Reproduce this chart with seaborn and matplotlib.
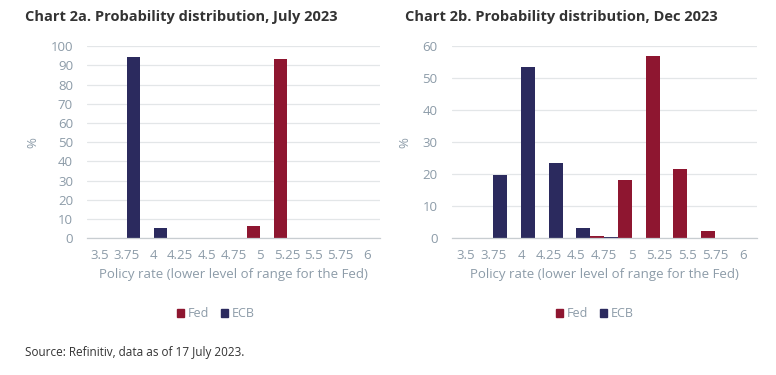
import matplotlib
matplotlib.use("Agg")
import matplotlib.pyplot as plt
import seaborn as sns
import pandas as pd
from matplotlib.patches import Patch

categories = ["3.5", "3.75", "4", "4.25", "4.5", "4.75", "5", "5.25", "5.5", "5.75", "6"]
fed_jul = [0, 0, 0, 0, 0, 0, 6.4, 93.4, 0, 0, 0]
ecb_jul = [0, 94.2, 5.4, 0, 0, 0, 0, 0, 0, 0, 0]
fed_dec = [0, 0, 0, 0, 0, 0.8, 18.3, 56.8, 21.6, 2.2, 0]
ecb_dec = [0, 19.6, 53.5, 23.6, 3.2, 0.4, 0, 0, 0, 0, 0]

titles = ["Chart 2a. Probability distribution, July 2023",
          "Chart 2b. Probability distribution, Dec 2023"]
xlabel = "Policy rate (lower level of range for the Fed)"
ylabel = "%"
series_names = ["Fed", "ECB"]
source = "Source: Refinitiv, data as of 17 July 2023."

FED_C = "#8E1630"
ECB_C = "#2B2A5E"
TICK_C = "#8C9BA8"
GRID_C = "#E3E6E8"
TITLE_C = "#333333"

sns.set_theme(style="white")
plt.rcParams["font.family"] = ["Open Sans", "DejaVu Sans"]

fig = plt.figure(figsize=(7.76, 3.75), dpi=100)
ax1 = fig.add_axes([0.112, 0.365, 0.378, 0.512])
ax2 = fig.add_axes([0.582, 0.365, 0.393, 0.512])

panels = [
    (ax1, fed_jul, ecb_jul, 100, 10),
    (ax2, fed_dec, ecb_dec, 60, 10),
]

for i, (ax, fed, ecb, ymax, step) in enumerate(panels):
    df = pd.DataFrame({
        "rate": categories * 2,
        "value": fed + ecb,
        "series": [series_names[0]] * len(categories) + [series_names[1]] * len(categories),
    })
    sns.barplot(data=df, x="rate", y="value", hue="series", order=categories,
                hue_order=series_names, palette=[FED_C, ECB_C], width=1.0,
                dodge=True, ax=ax, legend=False, saturation=1,
                edgecolor="none", linewidth=0)
    ax.set_ylim(0, ymax)
    ax.set_xlim(-0.5, len(categories) - 0.5)
    ax.set_yticks(range(0, ymax + 1, step))
    ax.yaxis.grid(True, color=GRID_C, linewidth=0.9)
    ax.set_axisbelow(True)
    for s in ["top", "right", "left"]:
        ax.spines[s].set_visible(False)
    ax.spines["bottom"].set_color("#C8CDD1")
    ax.spines["bottom"].set_linewidth(0.9)
    ax.tick_params(axis="y", length=0, labelsize=9.5, labelcolor=TICK_C, pad=10)
    ax.tick_params(axis="x", which="major", length=0, labelsize=9.5, labelcolor=TICK_C, pad=8)
    ax.set_xticks(range(len(categories)))
    ax.set_xticklabels(categories)
    ax.set_xticks([k - 0.5 for k in range(len(categories) + 1)], minor=True)
    ax.tick_params(axis="x", which="minor", length=5, color="#C8CDD1", width=0.9, direction="out")
    ax.set_xlabel(xlabel, fontsize=9.5, color=TICK_C, labelpad=4)
    ax.set_ylabel(ylabel, fontsize=9.5, color=TICK_C, labelpad=8)

    handles = [Patch(color=FED_C, label=series_names[0]), Patch(color=ECB_C, label=series_names[1])]
    ax.legend(handles=handles, loc="upper center", bbox_to_anchor=(0.44 if i == 0 else 0.47, -0.30),
              ncol=2, frameon=False, fontsize=9, labelcolor=TICK_C,
              handlelength=0.6, handleheight=0.6, handletextpad=0.3, columnspacing=0.9)

fig.text(0.032, 0.955, titles[0], fontsize=10.5, fontweight="bold", color=TITLE_C, va="center")
fig.text(0.522, 0.955, titles[1], fontsize=10.5, fontweight="bold", color=TITLE_C, va="center")
fig.text(0.032, 0.06, source, fontsize=8.5, color="#333333", va="center")

fig.savefig("out.png", dpi=100, facecolor="white")
